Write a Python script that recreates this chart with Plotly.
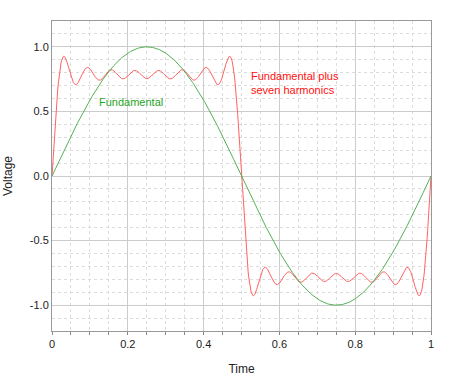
import numpy as np
import plotly.graph_objects as go

# Harmonic content (odd harmonics of a square wave)
harmonic_numbers = [1, 3, 5, 7, 9, 11, 13, 15]
harmonic_amplitudes = [1.0, 1/3, 1/5, 1/7, 1/9, 1/11, 1/13, 1/15]
fundamental_amplitude = 1.0

x_tick_values = [0, 0.2, 0.4, 0.6, 0.8, 1.0]
x_tick_labels = ["0", "0.2", "0.4", "0.6", "0.8", "1"]
y_tick_values = [-1.0, -0.5, 0.0, 0.5, 1.0]
y_tick_labels = ["-1.0", "-0.5", "0.0", "0.5", "1.0"]

t = np.linspace(0, 1, 801)
fundamental = fundamental_amplitude * np.sin(2 * np.pi * t)
combined = np.zeros_like(t)
for n, a in zip(harmonic_numbers, harmonic_amplitudes):
    combined += a * np.sin(2 * np.pi * n * t)

FONT = "Liberation Sans"

fig = go.Figure()
fig.add_trace(go.Scatter(x=t, y=combined, mode="lines",
                         line=dict(color="#ff6262", width=1), hoverinfo="skip"))
fig.add_trace(go.Scatter(x=t, y=fundamental, mode="lines",
                         line=dict(color="#55b055", width=1), hoverinfo="skip"))

fig.add_annotation(x=0.118, y=0.575, text="Fundamental", showarrow=False,
                   xanchor="left", yanchor="middle",
                   font=dict(family=FONT, size=11, color="#1fa51f"))
fig.add_annotation(x=0.52, y=0.72, text="Fundamental plus<br>seven harmonics",
                   showarrow=False, xanchor="left", yanchor="middle", align="left",
                   font=dict(family=FONT, size=11, color="#ff1010"))

fig.update_layout(
    width=449, height=379,
    margin=dict(l=52, r=18, t=21, b=48, autoexpand=False),
    paper_bgcolor="white", plot_bgcolor="white",
    showlegend=False,
    font=dict(family=FONT, size=11, color="#222"),
    xaxis=dict(
        range=[0, 1], tickvals=x_tick_values, ticktext=x_tick_labels,
        automargin=False,
        showgrid=True, gridcolor="#cccccc", gridwidth=1,
        ticks="outside", ticklen=3, tickcolor="#888",
        showline=True, linecolor="#999", linewidth=1, mirror=True,
        zeroline=False,
        minor=dict(dtick=0.05, showgrid=True, gridcolor="#dcdcdc", griddash="dot",
                   ticks="outside", ticklen=3, tickcolor="#888"),
        title=dict(text="Time", font=dict(family=FONT, size=12), standoff=15),
    ),
    yaxis=dict(
        range=[-1.2, 1.2], tickvals=y_tick_values, ticktext=y_tick_labels,
        automargin=False,
        showgrid=True, gridcolor="#cccccc", gridwidth=1,
        ticks="", showline=True, linecolor="#999", linewidth=1, mirror=True,
        zeroline=False,
        minor=dict(dtick=0.1, showgrid=True, gridcolor="#dcdcdc", griddash="dot"),
        title=dict(text="Voltage", font=dict(family=FONT, size=12), standoff=14),
    ),
)

fig.write_html(
    "out.html",
    config={"displayModeBar": False},
    post_script="document.body.style.margin='0';document.body.style.overflow='hidden';",
)
